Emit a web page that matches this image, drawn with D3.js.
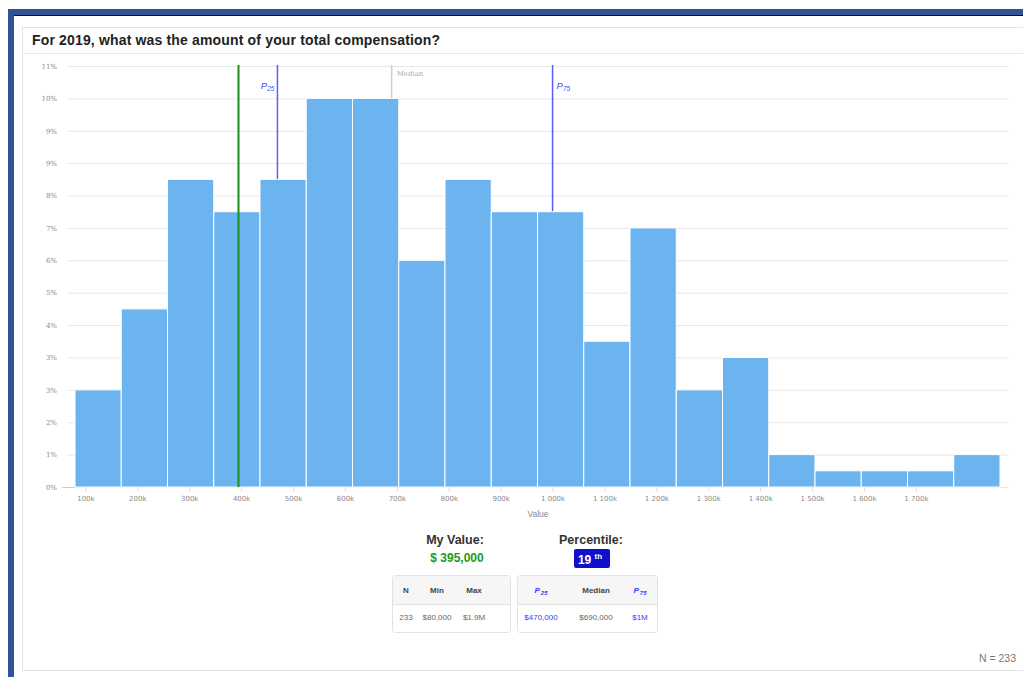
<!DOCTYPE html>
<html>
<head>
<meta charset="utf-8">
<script src="https://cdn.jsdelivr.net/npm/d3@7"></script>
<style>
  body { margin: 0; background: #fff; }
  svg { display: block; font-family: "Liberation Sans", Arial, sans-serif; }
</style>
</head>
<body>
<script>
// histogram counts per bin (233 answers)
var binCounts = [6, 11, 19, 17, 19, 24, 24, 14, 19, 17, 17, 9, 16, 6, 8, 2, 1, 1, 1, 2];
var total = 233;
var valueMin = 80000, valueMax = 1862000;
var xTicks = [100000, 200000, 300000, 400000, 500000, 600000, 700000, 800000, 900000,
              1000000, 1100000, 1200000, 1300000, 1400000, 1500000, 1600000, 1700000];
var xTickLabels = ["100k", "200k", "300k", "400k", "500k", "600k", "700k", "800k", "900k",
                   "1 000k", "1 100k", "1 200k", "1 300k", "1 400k", "1 500k", "1 600k", "1 700k"];
var yTicks = [0, 2, 4, 6, 8, 10, 12, 14, 16, 18, 20, 22, 24, 26];
var myValue = 395000, p25 = 470000, median = 690000, p75 = 1000000;
var statHeadA = ["N", "Min", "Max"], statValA = ["233", "$80,000", "$1.9M"];
var statHeadB = ["P", "Median", "P"], statSubB = ["25", "", "75"], statValB = ["$470,000", "$690,000", "$1M"];

var W = 1023, H = 677;
var svg = d3.select("body").append("svg").attr("width", W).attr("height", H);

// window frame
svg.append("rect").attr("x", 8).attr("y", 9).attr("width", W - 8).attr("height", H - 9).attr("fill", "#2f5597");
svg.append("rect").attr("x", 14).attr("y", 15).attr("width", W - 14).attr("height", H - 15).attr("fill", "#fff");
svg.append("line").attr("x1", 14).attr("x2", W).attr("y1", 15.5).attr("y2", 15.5).attr("stroke", "#111").attr("stroke-width", 1);

// card
svg.append("rect").attr("x", 22.5).attr("y", 27.5).attr("width", W).attr("height", 643)
  .attr("fill", "#fff").attr("stroke", "#e3e3e3");
svg.append("line").attr("x1", 23).attr("x2", W).attr("y1", 53.5).attr("y2", 53.5).attr("stroke", "#e6e6e6");
svg.append("text").attr("x", 32).attr("y", 45).attr("font-size", 14).attr("font-weight", "bold")
  .attr("fill", "#222").attr("textLength", 408).text("For 2019, what was the amount of your total compensation?");

var x = d3.scaleLinear().domain([valueMin, valueMax]).range([75, 1000]);
var y = d3.scaleLinear().domain([0, 26]).range([487, 66]);
var binW = (valueMax - valueMin) / binCounts.length;

// y grid + labels
var yAxis = d3.axisLeft(y).tickValues(yTicks).tickSize(-(1009 - 67)).tickPadding(10)
  .tickFormat(function(d) { return Math.round(d / total * 100) + "%"; });
var gy = svg.append("g").attr("transform", "translate(67,0)").call(yAxis);
gy.select(".domain").remove();
gy.selectAll(".tick line").attr("stroke", "#e8e8e8");
gy.selectAll(".tick text").attr("fill", "#8a8a8a").attr("font-size", 7).attr("font-family", "DejaVu Serif, serif");
svg.append("line").attr("x1", 62).attr("x2", 75).attr("y1", 487.5).attr("y2", 487.5).attr("stroke", "#ccc");

// marker lines behind bars
function vline(v, color, w) {
  svg.append("line").attr("x1", x(v)).attr("x2", x(v)).attr("y1", 65).attr("y2", 487)
    .attr("stroke", color).attr("stroke-width", w);
}
vline(median, "#cfcfcf", 1.5);
vline(p25, "#5a5aff", 1.5);
vline(p75, "#5a5aff", 1.5);

// bars
svg.append("g").selectAll("rect").data(binCounts).join("rect")
  .attr("x", function(d, i) { return x(valueMin + i * binW); })
  .attr("width", function(d, i) { return x(valueMin + (i + 1) * binW) - x(valueMin + i * binW); })
  .attr("y", function(d) { return y(d); })
  .attr("height", function(d) { return y(0) - y(d); })
  .attr("fill", "#6cb4ef").attr("stroke", "#fff").attr("stroke-width", 1);

// my value line on top
vline(myValue, "#1a8f1a", 2);

// marker labels
function pLabel(px, anchor, sub) {
  var t = svg.append("text").attr("x", px).attr("y", 89).attr("text-anchor", anchor)
    .attr("fill", "#4a4aff").attr("font-size", 9.5).attr("font-style", "italic");
  t.append("tspan").text("P");
  t.append("tspan").attr("font-size", 6.5).attr("dy", 2).text(sub);
}
pLabel(x(p25) - 3, "end", "25");
pLabel(x(p75) + 4, "start", "75");
svg.append("text").attr("x", x(median) + 5).attr("y", 76).attr("font-size", 7).attr("fill", "#aaa")
  .attr("font-family", "DejaVu Serif, serif").text("Median");

// x axis
var xAxis = d3.axisBottom(x).tickValues(xTicks).tickSize(5).tickPadding(4)
  .tickFormat(function(d, i) { return xTickLabels[i]; });
var gx = svg.append("g").attr("transform", "translate(0,487)").call(xAxis);
gx.select(".domain").remove();
gx.selectAll(".tick line").attr("stroke", "#e0e0e0");
gx.selectAll(".tick text").attr("fill", "#8a8a8a").attr("font-size", 7).attr("font-family", "DejaVu Sans, sans-serif");
svg.append("text").attr("x", 538).attr("y", 517).attr("text-anchor", "middle").attr("font-size", 8.5)
  .attr("fill", "#888").text("Value");

// summary
svg.append("text").attr("x", 455).attr("y", 544).attr("text-anchor", "middle").attr("font-size", 12.5)
  .attr("font-weight", "bold").attr("fill", "#333").text("My Value:");
svg.append("text").attr("x", 457).attr("y", 562).attr("text-anchor", "middle").attr("font-size", 12)
  .attr("font-weight", "bold").attr("fill", "#1a9a1a").text("$ " + d3.format(",")(myValue));
svg.append("text").attr("x", 591).attr("y", 544).attr("text-anchor", "middle").attr("font-size", 12.5)
  .attr("font-weight", "bold").attr("fill", "#333").text("Percentile:");
svg.append("rect").attr("x", 574).attr("y", 549).attr("width", 36).attr("height", 19).attr("rx", 2)
  .attr("fill", "#1010cc");
var pct = svg.append("text").attr("x", 590).attr("y", 564).attr("text-anchor", "middle")
  .attr("font-size", 12).attr("font-weight", "bold").attr("fill", "#fff");
pct.append("tspan").text("19 ");
pct.append("tspan").attr("font-size", 8).attr("dy", -5).text("th");

function statBox(x0, w, cols, heads, subs, vals, colors) {
  svg.append("rect").attr("x", x0 + 0.5).attr("y", 575.5).attr("width", w).attr("height", 57).attr("rx", 3)
    .attr("fill", "#fff").attr("stroke", "#e2e2e2");
  svg.append("path").attr("d", "M" + (x0 + 1) + ",604.5H" + (x0 + w))
    .attr("stroke", "#e2e2e2");
  svg.append("rect").attr("x", x0 + 1).attr("y", 576).attr("width", w - 1).attr("height", 28).attr("fill", "#f6f6f6");
  cols.forEach(function(cx, i) {
    var t = svg.append("text").attr("x", cx).attr("y", 593).attr("text-anchor", "middle")
      .attr("font-size", 8).attr("font-weight", "bold").attr("fill", subs[i] ? "#3a3aff" : "#444");
    if (subs[i]) t.attr("font-style", "italic");
    t.append("tspan").text(heads[i]);
    if (subs[i]) t.append("tspan").attr("font-size", 6).attr("dy", 2).attr("dx", 1).text(subs[i]);
    svg.append("text").attr("x", cx).attr("y", 620).attr("text-anchor", "middle")
      .attr("font-size", 8).attr("fill", colors[i]).text(vals[i]);
  });
}
statBox(392, 118, [406, 437, 474], statHeadA, ["", "", ""], statValA, ["#666", "#666", "#666"]);
statBox(517, 140, [541, 596, 640], statHeadB, statSubB, statValB, ["#3a3aff", "#666", "#3a3aff"]);

svg.append("text").attr("x", 1016).attr("y", 662).attr("text-anchor", "end").attr("font-size", 10.5)
  .attr("fill", "#777").text("N = " + total);
</script>
</body>
</html>
